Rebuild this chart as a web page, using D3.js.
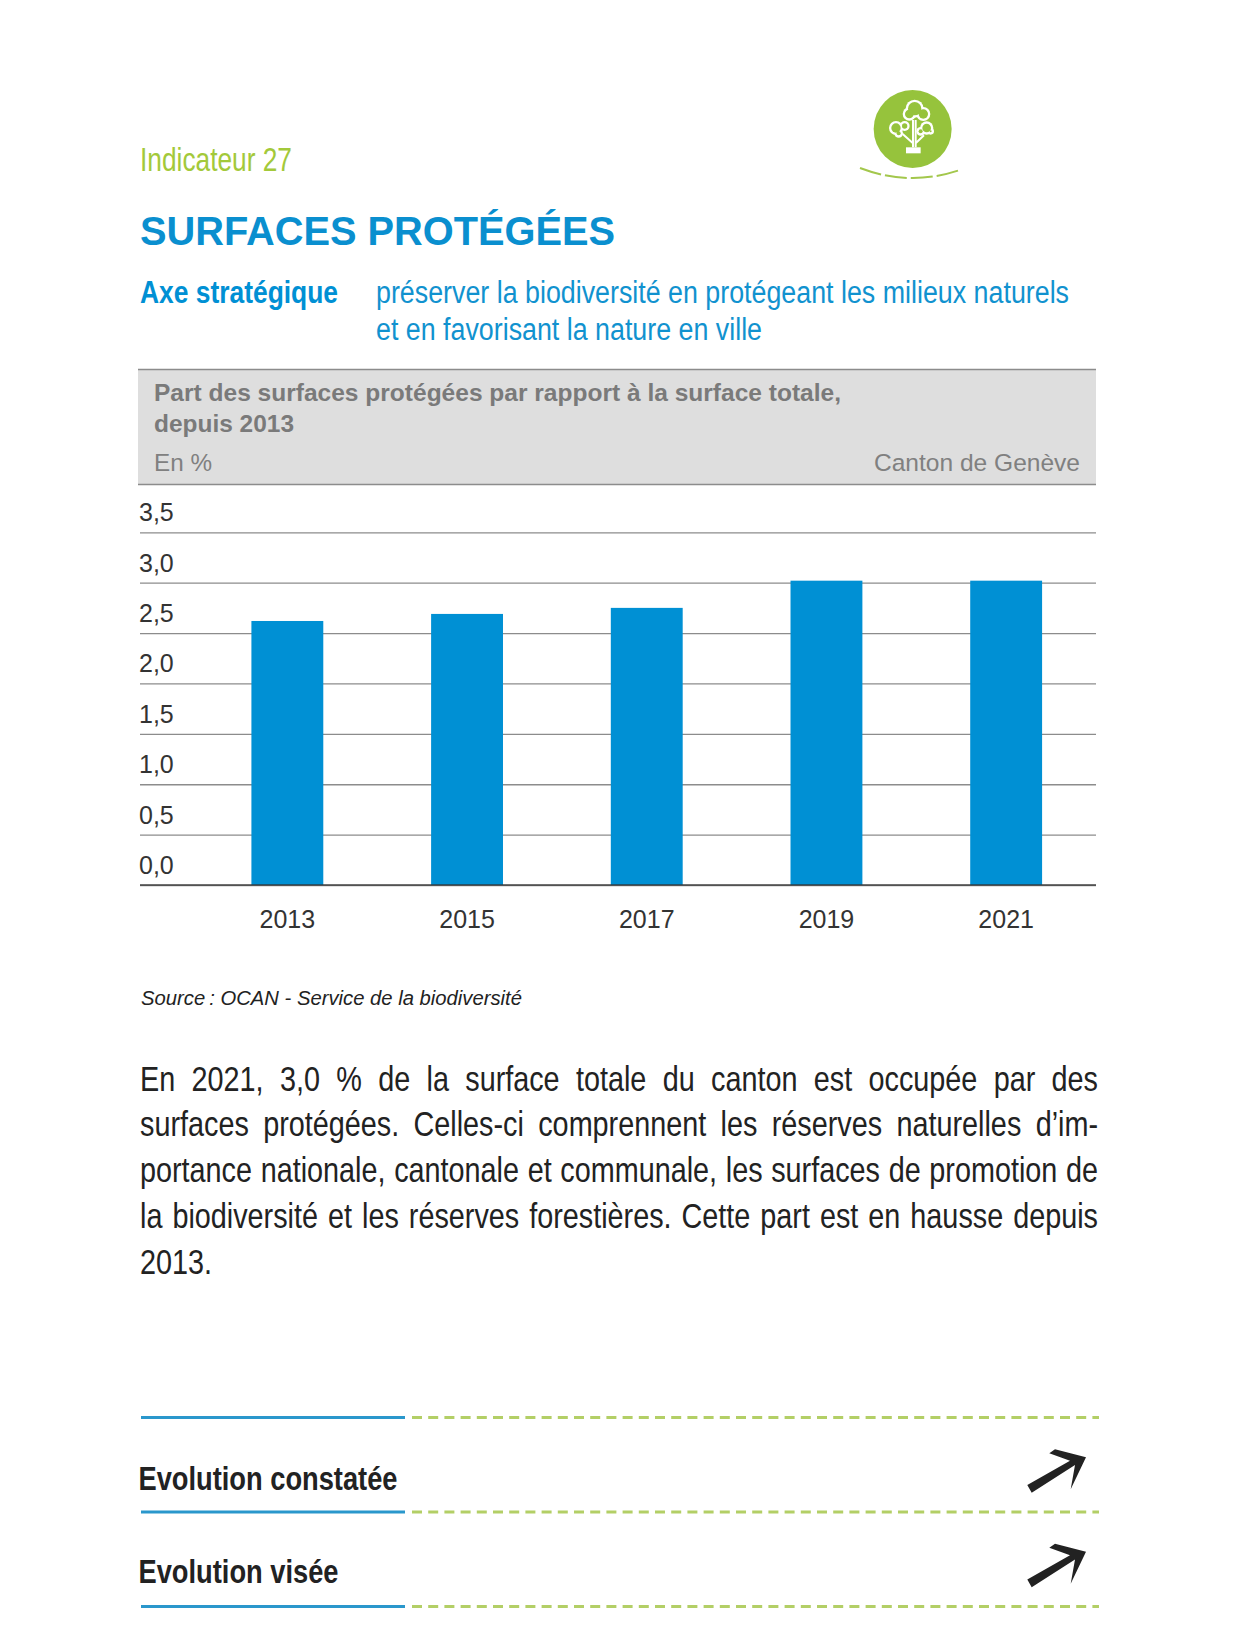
<!DOCTYPE html>
<html lang='fr'>
  <head>
    <meta charset='utf-8'>
    <style type='text/css'>
      body {margin: 0; background-color: #fff;}
      svg {display: block;}
      text {font-family: 'Liberation Sans', sans-serif;}
    </style>
  </head>
  <body>
    <svg id='page' width='1236' height='1633'></svg>

    <script src='https://d3js.org/d3.v7.min.js'></script>
    <script type='text/javascript'>
      var years = ['2013', '2015', '2017', '2019', '2021'];
      var shares = [2.62, 2.69, 2.75, 3.02, 3.02];
      var yTicks = [0, 0.5, 1, 1.5, 2, 2.5, 3, 3.5];

      var bodyLines = [
        'En 2021, 3,0 % de la surface totale du canton est occupée par des',
        'surfaces protégées. Celles-ci comprennent les réserves naturelles d’im-',
        'portance nationale, cantonale et communale, les surfaces de promotion de',
        'la biodiversité et les réserves forestières. Cette part est en hausse depuis',
        '2013.'
      ];
      var bodyBaselines = [1091, 1136, 1182, 1228, 1274];
      var footerLabels = ['Evolution constatée', 'Evolution visée'];
      var footerWidths = [259, 200];

      var blue = '#0090d4', green = '#a3c93a', grey = '#7a7a7a';
      var svg = d3.select('#page');

      // text squeezed to the width it has in the condensed original
      function label(x, y, str, size, width, color, weight, style) {
        var t = svg.append('text')
          .attr('x', x).attr('y', y)
          .attr('font-size', size)
          .attr('fill', color)
          .attr('font-weight', weight || 'normal')
          .attr('font-style', style || 'normal')
          .text(str);
        if (width) t.attr('textLength', width).attr('lengthAdjust', 'spacingAndGlyphs');
        return t;
      }

      // header
      label(140, 171, 'Indicateur 27', 34, 152, green);
      label(140, 245, 'SURFACES PROTÉGÉES', 40, 475, '#0a8fcf', 'bold');
      label(140, 303, 'Axe stratégique', 31.5, 198, blue, 'bold');
      label(376, 303, 'préserver la biodiversité en protégeant les milieux naturels', 31, 693, '#1192cf');
      label(376, 340, 'et en favorisant la nature en ville', 31, 386, '#1192cf');

      // icon
      var icon = svg.append('g').attr('transform', 'translate(800,60) scale(0.3333)');
      icon.append('circle').attr('cx', 338).attr('cy', 207).attr('r', 117).attr('fill', '#96c33c');
      var lobes = [[344, 146, 27], [328, 162, 20], [370, 162, 21], [288, 204, 21], [314, 198, 15], [296, 220, 13], [380, 204, 20], [362, 214, 13], [392, 214, 10]];
      icon.selectAll('.lobe').data(lobes).enter().append('circle')
        .attr('cx', function(d) { return d[0]; }).attr('cy', function(d) { return d[1]; }).attr('r', function(d) { return d[2]; })
        .attr('fill', '#fff');
      icon.selectAll('.inner').data(lobes).enter().append('circle')
        .attr('cx', function(d) { return d[0]; }).attr('cy', function(d) { return d[1]; }).attr('r', function(d) { return d[2] - 7; })
        .attr('fill', '#96c33c');
      icon.append('path')
        .attr('d', 'M339 262V180M347 262V180M339 250L308 222M347 250L372 226')
        .attr('stroke', '#fff').attr('stroke-width', 6).attr('fill', 'none');
      icon.append('rect').attr('x', 318).attr('y', 262).attr('width', 44).attr('height', 18).attr('fill', '#fff');
      svg.append('path')
        .attr('d', 'M860 168Q910 187 960 170')
        .attr('fill', 'none').attr('stroke', '#a3c74c').attr('stroke-width', 2)
        .attr('stroke-dasharray', '22 4');

      // title panel
      svg.append('rect').attr('x', 138).attr('y', 369.5).attr('width', 958).attr('height', 115)
        .attr('fill', '#dedede').attr('stroke', 'none');
      svg.append('g').selectAll('line').data([369.5, 484.5]).enter().append('line')
        .attr('x1', 138).attr('x2', 1096)
        .attr('y1', function(d) { return d; }).attr('y2', function(d) { return d; })
        .attr('stroke', '#8c8c8c').attr('stroke-width', 1.5);
      label(154, 401, 'Part des surfaces protégées par rapport à la surface totale,', 24.5, 687, grey, 'bold');
      label(154, 432, 'depuis 2013', 24.5, 140, grey, 'bold');
      label(154, 471, 'En %', 24.5, 58, '#808080');
      label(874, 471, 'Canton de Genève', 24.5, 206, '#808080');

      // chart
      var x = d3.scaleBand().domain(years).range([197.5, 1096]).paddingInner(0.6).paddingOuter(0.3);
      var y = d3.scaleLinear().domain([0, 3.5]).range([885, 532.3]);

      var grid = svg.append('g')
        .attr('transform', 'translate(140,0)')
        .call(d3.axisRight(y).tickValues(yTicks).tickSize(956).tickFormat(function(d) { return d3.format('.1f')(d).replace('.', ','); }));
      grid.select('.domain').remove();
      grid.selectAll('line').attr('stroke', '#8c8c8c').attr('stroke-width', 1.3);
      grid.selectAll('text')
        .attr('x', -1).attr('dy', -11.5)
        .attr('text-anchor', 'start')
        .attr('font-size', 25).attr('font-family', "'Liberation Sans', sans-serif").attr('fill', '#333');

      svg.selectAll('.bar').data(shares).enter().append('rect')
        .attr('class', 'bar')
        .attr('x', function(d, i) { return x(years[i]); })
        .attr('y', function(d) { return y(d); })
        .attr('width', x.bandwidth())
        .attr('height', function(d) { return y(0) - y(d); })
        .attr('fill', blue);

      svg.append('line')
        .attr('x1', 140).attr('x2', 1096).attr('y1', y(0)).attr('y2', y(0))
        .attr('stroke', '#333').attr('stroke-opacity', 0.65).attr('stroke-width', 2);

      var xAxis = svg.append('g')
        .attr('transform', 'translate(0,885)')
        .call(d3.axisBottom(x).tickSize(0).tickPadding(0));
      xAxis.select('.domain').remove();
      xAxis.selectAll('text')
        .attr('y', 42.7).attr('dy', 0)
        .attr('font-size', 25).attr('font-family', "'Liberation Sans', sans-serif").attr('fill', '#333');

      label(141, 1005, 'Source\u2009: OCAN - Service de la biodiversité', 20.5, 381, '#222', 'normal', 'italic');

      // justified paragraph, word gaps worked out per line
      var squeeze = 0.8, paragraphWidth = 958;
      bodyLines.forEach(function(line, i) {
        var t = svg.append('text')
          .attr('transform', 'translate(140,' + bodyBaselines[i] + ') scale(' + squeeze + ',1)')
          .attr('font-size', 36).attr('fill', '#222')
          .text(line);
        var gaps = line.split(' ').length - 1;
        if (gaps) {
          var extra = paragraphWidth / squeeze - t.node().getComputedTextLength();
          t.style('word-spacing', (extra / gaps) + 'px');
        }
      });

      // footer
      var ruleYs = [1417.5, 1512, 1606.5];
      svg.append('g').selectAll('line').data(ruleYs).enter().append('line')
        .attr('x1', 141).attr('x2', 405)
        .attr('y1', function(d) { return d; }).attr('y2', function(d) { return d; })
        .attr('stroke', '#2a97cc').attr('stroke-width', 3);
      svg.append('g').selectAll('line').data(ruleYs).enter().append('line')
        .attr('x1', 412).attr('x2', 1099)
        .attr('y1', function(d) { return d; }).attr('y2', function(d) { return d; })
        .attr('stroke', '#b3cf66').attr('stroke-width', 3)
        .attr('stroke-dasharray', '10 6.2');

      footerLabels.forEach(function(str, i) {
        label(138.5, 1489.5 + i * 93, str, 33, footerWidths[i], '#222', 'bold');
        svg.append('polygon')
          .attr('points', '1027.3,1485 1031.7,1492.7 1075,1465 1070.7,1489.3 1086,1457.3 1055,1449.3 1049.3,1453.3 1070,1460.7')
          .attr('transform', 'translate(0,' + (i * 94.5) + ')')
          .attr('fill', '#222');
      });
    </script>
  </body>
</html>
